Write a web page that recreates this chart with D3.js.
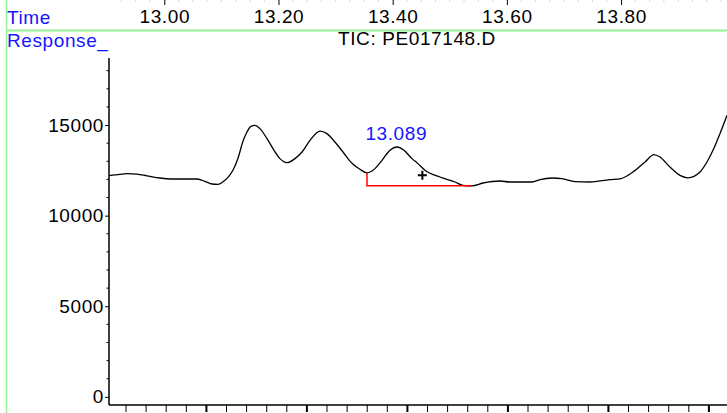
<!DOCTYPE html>
<html>
<head>
<meta charset="utf-8">
<script src="https://cdn.jsdelivr.net/npm/d3@7"></script>
<style>
  body { margin: 0; background: #fff; }
  svg text { font-family: "Liberation Sans", Arial, sans-serif; font-size: 19px; letter-spacing: 0.6px; }
</style>
</head>
<body>
<div id="chart"></div>
<script>
// retention time (min) and TIC response
const times = [
  12.9032, 12.9224, 12.9347, 12.9522, 12.9697, 12.9925, 13.01, 13.0573, 13.073, 13.0835,
  13.094, 13.1028, 13.1116, 13.1203, 13.1291, 13.1378, 13.1448, 13.1518, 13.1588, 13.1676,
  13.1799, 13.1904, 13.2026, 13.2149, 13.2289, 13.2412, 13.2552, 13.2727, 13.2849, 13.2989,
  13.313, 13.3287, 13.3427, 13.355, 13.369, 13.3813, 13.3953, 13.4075, 13.4198, 13.4338,
  13.4443, 13.4566, 13.4828, 13.5091, 13.5231, 13.5389, 13.5581, 13.5879, 13.6054, 13.644,
  13.658, 13.679, 13.6965, 13.7193, 13.7455, 13.7806, 13.7981, 13.8208, 13.8419, 13.8576,
  13.8681, 13.8856, 13.9032, 13.9172, 13.9382, 13.9504, 13.961, 13.9732, 13.9855
];
const responses = [
  12210, 12281, 12320, 12292, 12198, 12077, 12022, 12022, 11868, 11746,
  11730, 11868, 12116, 12502, 13164, 14101, 14614, 14928, 14983, 14801,
  14250, 13699, 13147, 12926, 13147, 13511, 14156, 14669, 14526, 14062,
  13511, 12888, 12557, 12364, 12595, 13053, 13605, 13787, 13605, 13147,
  12871, 12502, 12132, 11857, 11675, 11647, 11801, 11912, 11857, 11857,
  11989, 12077, 12044, 11879, 11857, 11989, 12033, 12408, 12960, 13368,
  13235, 12684, 12226, 12088, 12408, 12960, 13605, 14526, 15535
];

const timeTicks = [13.0, 13.2, 13.4, 13.6, 13.8];
const responseTicks = [0, 5000, 10000, 15000];

// integrated peak: label, baseline and cursor mark
const peakLabel = "13.089";
const peakLabelPos = [13.4063, 14156];
const baselineStart = [13.355, 12364];
const baselineEnd = [13.5389, 11647];
const cursorMark = [13.452, 12226];

const fileName = "TIC: PE017148.D";

const width = 727;
const height = 413;
const plot = { left: 109, right: 727, top: 58, bottom: 405 };

const svg = d3
  .select("#chart")
  .append("svg")
  .attr("width", width)
  .attr("height", height);

const x = d3.scaleLinear().domain([12.9032, 13.9855]).range([plot.left, plot.right]);
const y = d3.scaleLinear().domain([-450, 18700]).range([plot.bottom, plot.top]);
// unlabeled scan ruler along the bottom
const scan = d3.scaleLinear().domain([0.154, 30.9]).range([plot.left, plot.right]);

// green frame lines
svg.append("line")
  .attr("x1", 6.5).attr("x2", 6.5).attr("y1", 0).attr("y2", height)
  .attr("stroke", "#93f293").attr("stroke-width", 1.5);
svg.append("line")
  .attr("x1", 6).attr("x2", width).attr("y1", 30.5).attr("y2", 30.5)
  .attr("stroke", "#93f293").attr("stroke-width", 2);

svg.append("text").attr("x", 7).attr("y", 23.5).attr("fill", "#1515ff").text("Time");
svg.append("text").attr("x", 7).attr("y", 46.5).attr("fill", "#1515ff").text("Response_");

// top time axis
const minorTimes = d3.range(12.925, 13.99, 0.025).filter(
  (t) => !timeTicks.some((m) => Math.abs(m - t) < 1e-6)
);
svg.append("g")
  .selectAll("line")
  .data(minorTimes)
  .join("line")
  .attr("x1", (d) => x(d)).attr("x2", (d) => x(d))
  .attr("y1", 0).attr("y2", 2)
  .attr("stroke", "#d8d8d8");

const topAxis = svg.append("g")
  .call(d3.axisBottom(x).tickValues(timeTicks).tickFormat(d3.format(".2f")).tickSize(5).tickPadding(5));
topAxis.select(".domain").remove();
topAxis.selectAll("text").attr("fill", "#000").style("font-size", "19px");
topAxis.selectAll("line").attr("stroke", "#000");

svg.append("text")
  .attr("x", 417).attr("y", 45)
  .attr("text-anchor", "middle")
  .attr("fill", "#000")
  .text(fileName);

// left response axis
svg.append("g")
  .selectAll("line")
  .data(d3.range(1000, 18001, 1000).filter((v) => v % 5000 !== 0))
  .join("line")
  .attr("x1", plot.left - 2.5).attr("x2", plot.left)
  .attr("y1", (d) => y(d)).attr("y2", (d) => y(d))
  .attr("stroke", "#000");

const leftAxis = svg.append("g")
  .attr("transform", `translate(${plot.left},0)`)
  .call(d3.axisLeft(y).tickValues(responseTicks).tickFormat(d3.format("d")).tickSize(4).tickPadding(1));
leftAxis.select(".domain").remove();
leftAxis.selectAll("text").attr("fill", "#000").style("font-size", "19px");
leftAxis.selectAll("line").attr("stroke", "#000");

svg.append("line")
  .attr("x1", plot.left).attr("x2", plot.left)
  .attr("y1", plot.top).attr("y2", plot.bottom)
  .attr("stroke", "#000").attr("stroke-width", 1.5);

// bottom ruler
svg.append("line")
  .attr("x1", plot.left).attr("x2", plot.right)
  .attr("y1", plot.bottom).attr("y2", plot.bottom)
  .attr("stroke", "#000").attr("stroke-width", 1.5);
svg.append("g")
  .selectAll("line")
  .data(d3.range(1, 31))
  .join("line")
  .attr("x1", (d) => scan(d)).attr("x2", (d) => scan(d))
  .attr("y1", plot.bottom).attr("y2", plot.bottom + 7)
  .attr("stroke", "#000")
  .attr("stroke-width", (d) => (d % 5 === 0 ? 2 : 1));

// trace
const line = d3.line()
  .x((d, i) => x(times[i]))
  .y((d) => y(d))
  .curve(d3.curveMonotoneX);

svg.append("path")
  .datum(responses)
  .attr("d", line)
  .attr("fill", "none")
  .attr("stroke", "#000")
  .attr("stroke-width", 1.3);

// peak baseline
svg.append("path")
  .attr("d", `M${x(baselineStart[0])},${y(baselineStart[1])}V${y(baselineEnd[1])}H${x(baselineEnd[0])}`)
  .attr("fill", "none")
  .attr("stroke", "#ff0000")
  .attr("stroke-width", 1.5);

svg.append("text")
  .attr("x", x(peakLabelPos[0])).attr("y", y(peakLabelPos[1]))
  .attr("text-anchor", "middle")
  .attr("fill", "#1515ff")
  .text(peakLabel);

const cx = x(cursorMark[0]);
const cy = y(cursorMark[1]);
svg.append("path")
  .attr("d", `M${cx - 4.5},${cy}H${cx + 4.5}M${cx},${cy - 4.5}V${cy + 4.5}`)
  .attr("stroke", "#000")
  .attr("stroke-width", 2);
</script>
</body>
</html>
